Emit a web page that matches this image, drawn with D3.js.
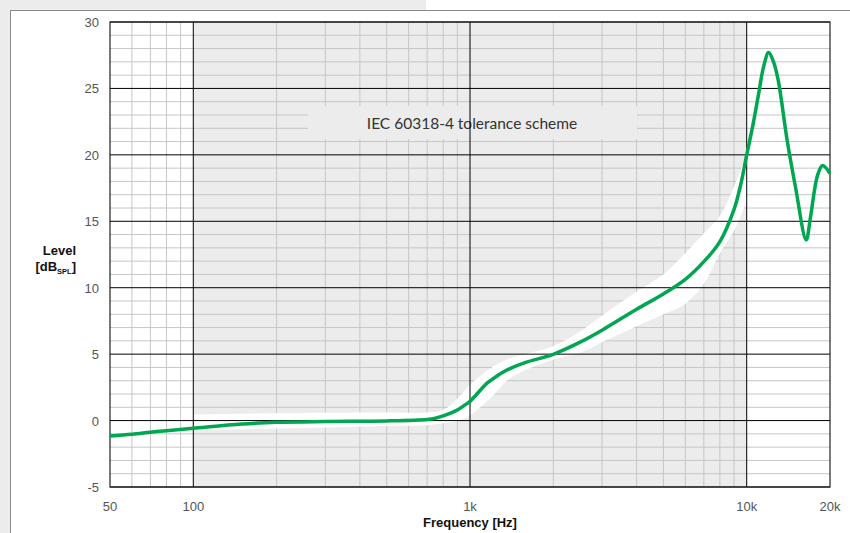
<!DOCTYPE html>
<html>
<head>
<meta charset="utf-8">
<script src="https://cdn.jsdelivr.net/npm/d3@7"></script>
<style>
  body { margin: 0; background: #ececec; }
  svg { display: block; }
</style>
</head>
<body>
<div id="chart"></div>
<script>
// measured response (Hz, dB SPL)
const freqs = [50, 60, 70, 80, 100, 150, 200, 300, 500, 700, 750, 800, 850, 900, 950, 1000, 1050, 1100, 1150, 1200, 1300, 1400, 1600, 2000, 2500, 3000, 4000, 5000, 6000, 7000, 8000, 9000, 9500, 10000, 10500, 11000, 11500, 12000, 12500, 13000, 14000, 15000, 16400, 17000, 18000, 18800, 20000];
const levels = [-1.16, -1.03, -0.88, -0.76, -0.58, -0.26, -0.13, -0.07, -0.03, 0.08, 0.18, 0.35, 0.56, 0.8, 1.12, 1.45, 1.91, 2.38, 2.8, 3.08, 3.58, 3.93, 4.4, 4.99, 5.9, 6.8, 8.38, 9.53, 10.63, 11.96, 13.47, 15.9, 17.7, 20.0, 22.1, 24.4, 26.6, 27.7, 27.0, 25.6, 21.1, 17.6, 13.6, 15.3, 18.4, 19.2, 18.6];

// IEC 60318-4 tolerance band
const bandFreqs = [100, 200, 500, 700, 800, 900, 1000, 1200, 1400, 2000, 2500, 3000, 4000, 5000, 6000, 7000, 8000, 9000, 10000];
const bandUpper = [0.45, 0.55, 0.6, 0.6, 0.8, 1.65, 2.7, 4.0, 4.7, 5.6, 6.7, 7.9, 9.7, 11.0, 12.6, 14.1, 15.4, 17.6, 20.0];
const bandLower = [-0.7, -0.6, -0.4, -0.35, -0.2, -0.05, 0.4, 1.8, 3.2, 4.6, 5.1, 5.9, 7.1, 8.0, 8.8, 10.3, 12.6, 14.3, 16.5];

const yTicks = [-5, 0, 5, 10, 15, 20, 25, 30];
const xTicks = [50, 100, 1000, 10000, 20000];
const xTickLabels = ["50", "100", "1k", "10k", "20k"];
const majorFreqs = [100, 1000, 10000];
const minorFreqs = [60, 70, 80, 90, 200, 300, 400, 500, 600, 700, 800, 900, 2000, 3000, 4000, 5000, 6000, 7000, 8000, 9000];

const width = 850;
const height = 533;
const plot = { left: 110, right: 830, top: 22, bottom: 487 };

const svg = d3.select("#chart").append("svg")
  .attr("width", width)
  .attr("height", height);

// page frame
svg.append("rect").attr("x", 0).attr("y", 0).attr("width", width).attr("height", height).attr("fill", "#ececec");
svg.append("rect").attr("x", 426).attr("y", 0).attr("width", width - 426).attr("height", 10).attr("fill", "#fff");
svg.append("rect").attr("x", 10.5).attr("y", 10.5).attr("width", width).attr("height", height).attr("fill", "#fff")
  .attr("stroke", "#8a8a8a").attr("stroke-width", 1);

const x = d3.scaleLog().domain([50, 20000]).range([plot.left, plot.right]);
const y = d3.scaleLinear().domain([-5, 30]).range([plot.bottom, plot.top]);

// shaded 100 Hz - 10 kHz
svg.append("rect")
  .attr("x", x(100)).attr("y", plot.top)
  .attr("width", x(10000) - x(100)).attr("height", plot.bottom - plot.top)
  .attr("fill", "#ececec");

// minor horizontal grid
const gridG = svg.append("g");
gridG.selectAll("line.hmin")
  .data(d3.range(-4, 30).filter((v) => v % 5 !== 0))
  .join("line")
  .attr("x1", plot.left).attr("x2", plot.right)
  .attr("y1", (d) => y(d)).attr("y2", (d) => y(d))
  .attr("stroke", "#c6c6c6").attr("stroke-width", 1);

gridG.selectAll("line.vmin")
  .data(minorFreqs)
  .join("line")
  .attr("x1", (d) => x(d)).attr("x2", (d) => x(d))
  .attr("y1", plot.top).attr("y2", plot.bottom)
  .attr("stroke", "#c6c6c6").attr("stroke-width", 1);

// tolerance band
const band = bandFreqs.map((f, i) => ({ f: f, hi: bandUpper[i], lo: bandLower[i] }));
svg.append("path")
  .datum(band)
  .attr("fill", "#fff")
  .attr("d", d3.area().curve(d3.curveCatmullRom.alpha(0.5))
    .x((d) => x(d.f)).y0((d) => y(d.lo)).y1((d) => y(d.hi)));

// label box
const boxG = svg.append("g");
boxG.append("rect")
  .attr("x", 308).attr("y", 106).attr("width", 329).attr("height", 33)
  .attr("fill", "#ececec");
boxG.append("text")
  .attr("x", 472).attr("y", 128.5)
  .attr("text-anchor", "middle")
  .attr("font-family", "Lato, sans-serif")
  .attr("font-size", 15.5)
  .attr("fill", "#333")
  .text("IEC 60318-4 tolerance scheme");

// major grid
svg.selectAll("line.hmaj")
  .data(yTicks)
  .join("line")
  .attr("x1", plot.left).attr("x2", plot.right)
  .attr("y1", (d) => y(d)).attr("y2", (d) => y(d))
  .attr("stroke", "#000").attr("stroke-width", 1);

svg.selectAll("line.vmaj")
  .data(majorFreqs)
  .join("line")
  .attr("x1", (d) => x(d)).attr("x2", (d) => x(d))
  .attr("y1", plot.top).attr("y2", plot.bottom)
  .attr("stroke", "#000").attr("stroke-width", 1);

svg.append("rect")
  .attr("x", plot.left).attr("y", plot.top)
  .attr("width", plot.right - plot.left).attr("height", plot.bottom - plot.top)
  .attr("fill", "none").attr("stroke", "#222").attr("stroke-width", 1.2);

// response curve
const pts = freqs.map((f, i) => [f, levels[i]]);
svg.append("path")
  .datum(pts)
  .attr("fill", "none")
  .attr("stroke", "#00a651")
  .attr("stroke-width", 3.5)
  .attr("stroke-linejoin", "round")
  .attr("d", d3.line().curve(d3.curveCatmullRom.alpha(0.5)).x((d) => x(d[0])).y((d) => y(d[1])));

// axes labels
svg.append("g").selectAll("text")
  .data(yTicks)
  .join("text")
  .attr("x", 99).attr("y", (d) => y(d) + 5)
  .attr("text-anchor", "end")
  .attr("font-family", "'Liberation Sans', Arial, sans-serif")
  .attr("font-size", 13)
  .attr("fill", "#555")
  .text((d) => d);

svg.append("g").selectAll("text")
  .data(xTicks)
  .join("text")
  .attr("x", (d) => x(d)).attr("y", 511)
  .attr("text-anchor", "middle")
  .attr("font-family", "'Liberation Sans', Arial, sans-serif")
  .attr("font-size", 13)
  .attr("fill", "#555")
  .text((d, i) => xTickLabels[i]);

svg.append("text")
  .attr("x", x(1000)).attr("y", 527)
  .attr("text-anchor", "middle")
  .attr("font-family", "'Liberation Sans', Arial, sans-serif")
  .attr("font-size", 13)
  .attr("font-weight", "bold")
  .attr("fill", "#111")
  .text("Frequency [Hz]");

const yl = svg.append("text")
  .attr("text-anchor", "end")
  .attr("font-family", "'Liberation Sans', Arial, sans-serif")
  .attr("font-size", 13)
  .attr("font-weight", "bold")
  .attr("fill", "#111");
yl.append("tspan").attr("x", 76).attr("y", 255).text("Level");
const l2 = svg.append("text")
  .attr("x", 76).attr("y", 271)
  .attr("text-anchor", "end")
  .attr("font-family", "'Liberation Sans', Arial, sans-serif")
  .attr("font-size", 13)
  .attr("font-weight", "bold")
  .attr("fill", "#111");
l2.append("tspan").text("[dB");
l2.append("tspan").attr("font-size", 7.5).attr("dy", 3).text("SPL");
l2.append("tspan").attr("dy", -3).text("]");
</script>
</body>
</html>
